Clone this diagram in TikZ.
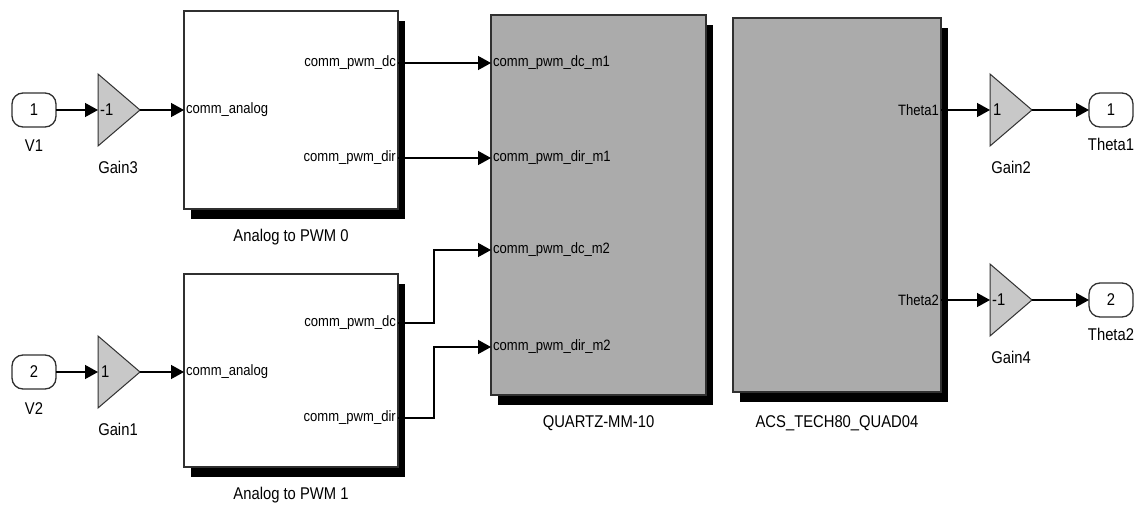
\documentclass[tikz,border=0pt]{standalone}
\usepackage{fontspec}
\setmainfont{Liberation Sans}
\newfontfamily\simfont[FakeStretch=0.87]{Liberation Sans}
\usetikzlibrary{arrows.meta,positioning,shapes.geometric,shadows}
\definecolor{BlockGray}{HTML}{ABABAB}
\definecolor{GainGray}{HTML}{C8C8C8}
\definecolor{Edge}{HTML}{303030}

\begin{document}
\begin{tikzpicture}[x=1pt,y=-1pt,
  font=\simfont\fontsize{17}{19}\selectfont,
  port/.style={draw=Edge,line width=1.3pt,rounded corners=11pt,minimum width=44pt,
    minimum height=34pt,inner sep=0,outer sep=0},
  gain/.style={isosceles triangle,isosceles triangle stretches,shape border rotate=0,
    draw=Edge,line width=1pt,fill=GainGray,minimum width=72pt,minimum height=42pt,
    inner sep=0,outer sep=0},
  subsys/.style={draw=Edge,line width=1.3pt,fill=white,inner sep=0,outer sep=0,
    drop shadow={shadow xshift=7pt,shadow yshift=-10pt,opacity=1,fill=black}},
  hwblock/.style={subsys,fill=BlockGray},
  portlbl/.style={font=\simfont\fontsize{15}{17}\selectfont,inner sep=0},
  lbl/.style={inner sep=0},
  sig/.style={-{Triangle[length=13pt,width=14pt]},line width=1.4pt}
]
\fill[white] (0,0) rectangle (1140,508);
\useasboundingbox (0,0) rectangle (1140,508);

% inputs
\node[port] (v1) at (34,110) {1};
\node[lbl,below=13pt of v1] (v1lbl) {V1};
\node[port] (v2) at (34,372) {2};
\node[lbl,below=13pt of v2] (v2lbl) {V2};

% input gains
\node[gain,anchor=west] (gain3) at (98,110) {};
\node[lbl,anchor=west] at ([xshift=2pt]gain3.west) {-1};
\node[lbl] (gain3lbl) at (118,167) {Gain3};
\node[gain,anchor=west] (gain1) at (98,372) {};
\node[lbl,anchor=west] at ([xshift=3pt]gain1.west) {1};
\node[lbl] (gain1lbl) at (118,429) {Gain1};

% PWM subsystems
\node[subsys,minimum width=214pt,minimum height=198pt] (pwm0) at (291,110) {};
\node[lbl,below=20pt of pwm0] (pwm0lbl) {Analog to PWM 0};
\node[portlbl,anchor=west] at ([xshift=2pt]pwm0.west) {comm\_analog};
\node[portlbl,anchor=east] at (396,63) {comm\_pwm\_dc};
\node[portlbl,anchor=east] at (396,158) {comm\_pwm\_dir};

\node[subsys,minimum width=214pt,minimum height=193pt] (pwm1) at (291,370.5) {};
\node[lbl,below=20pt of pwm1] (pwm1lbl) {Analog to PWM 1};
\node[portlbl,anchor=west] at (186,372) {comm\_analog};
\node[portlbl,anchor=east] at (396,323) {comm\_pwm\_dc};
\node[portlbl,anchor=east] at (396,418) {comm\_pwm\_dir};

% hardware blocks
\node[hwblock,minimum width=215pt,minimum height=380pt] (quartz) at (598.5,205) {};
\node[lbl,below=20pt of quartz] (quartzlbl) {QUARTZ-MM-10};
\node[portlbl,anchor=west] at (493,63) {comm\_pwm\_dc\_m1};
\node[portlbl,anchor=west] at (493,158) {comm\_pwm\_dir\_m1};
\node[portlbl,anchor=west] at (493,250) {comm\_pwm\_dc\_m2};
\node[portlbl,anchor=west] at (493,347) {comm\_pwm\_dir\_m2};

\node[hwblock,minimum width=208pt,minimum height=374pt] (acs) at (837,205) {};
\node[lbl,below=23pt of acs] (acslbl) {ACS\_TECH80\_QUAD04};
\node[portlbl,anchor=east] at (939,110) {Theta1};
\node[portlbl,anchor=east] at (939,300) {Theta2};

% output gains and ports
\node[gain,anchor=west] (gain2) at (990,110) {};
\node[lbl,anchor=west] at ([xshift=3pt]gain2.west) {1};
\node[lbl] (gain2lbl) at (1011,167) {Gain2};
\node[gain,anchor=west] (gain4) at (990,300) {};
\node[lbl,anchor=west] at ([xshift=2pt]gain4.west) {-1};
\node[lbl] (gain4lbl) at (1011,357) {Gain4};

\node[port] (th1) at (1111,110) {1};
\node[lbl,below=11pt of th1] (th1lbl) {Theta1};
\node[port] (th2) at (1111,300) {2};
\node[lbl,below=11pt of th2] (th2lbl) {Theta2};

% signals
\draw[sig] (v1.east) -- (gain3.west);
\draw[sig] (gain3.apex) -- (pwm0.west);
\draw[sig] (v2.east) -- (gain1.west);
\draw[sig] (gain1.apex) -- (pwm1.west |- 0,372);
\draw[sig] (pwm0.east |- 0,63) -- (quartz.west |- 0,63);
\draw[sig] (pwm0.east |- 0,158) -- (quartz.west |- 0,158);
\draw[sig] (pwm1.east |- 0,323) -- ++(36,0) |- (quartz.west |- 0,250);
\draw[sig] (pwm1.east |- 0,418) -- ++(36,0) |- (quartz.west |- 0,347);
\draw[sig] (acs.east |- 0,110) -- (gain2.west);
\draw[sig] (gain2.apex) -- (th1.west);
\draw[sig] (acs.east |- 0,300) -- (gain4.west);
\draw[sig] (gain4.apex) -- (th2.west);
\end{tikzpicture}
\end{document}
